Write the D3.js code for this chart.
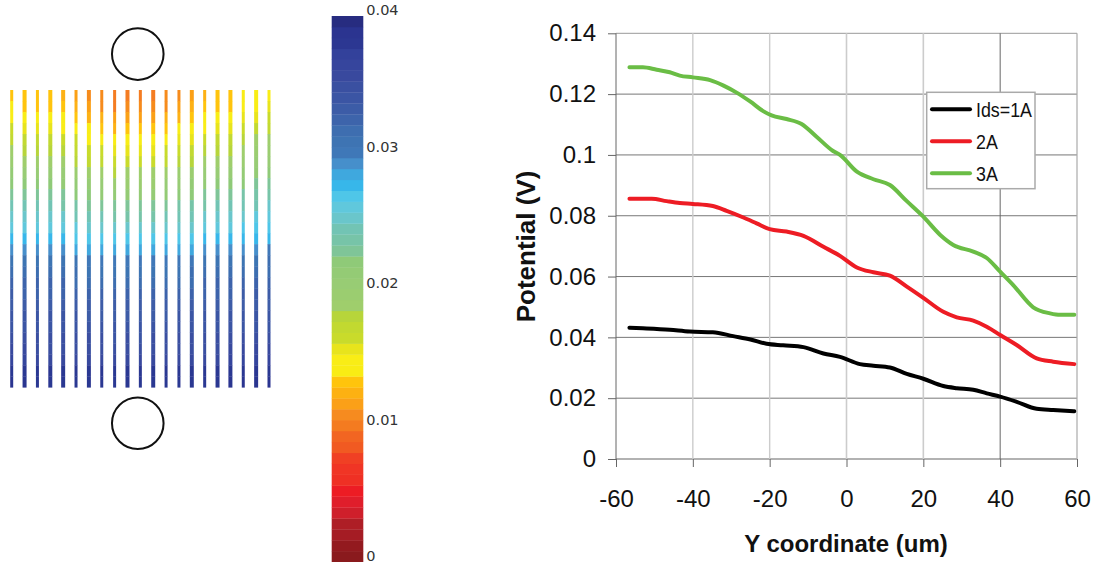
<!DOCTYPE html>
<html>
<head>
<meta charset="utf-8">
<script src="https://cdn.jsdelivr.net/npm/d3@7"></script>
<style>
  html, body { margin: 0; padding: 0; background: #fff; }
  svg { display: block; }
  text { font-family: "Liberation Sans", Arial, sans-serif; fill: #111; }
</style>
</head>
<body>
<div id="chart"></div>
<script>
// line chart data
const seriesNames = ["Ids=1A", "2A", "3A"];
const seriesColors = ["#000000", "#ed1c24", "#6abd45"];
const xTicks = [-60, -40, -20, 0, 20, 40, 60];
const yTicks = [0, 0.02, 0.04, 0.06, 0.08, 0.1, 0.12, 0.14];

const blackX = [-56.5, -53, -46, -40.8, -34.8, -29.5, -25, -20.8, -16.5, -11.2, -6, -1.7, 3.5, 7, 11.3, 15.7, 20, 25.2, 28.7, 33, 36.5, 40, 44.3, 49.5, 53.8, 59.3];
const blackY = [0.0432, 0.043, 0.0425, 0.0419, 0.0417, 0.0404, 0.0393, 0.0379, 0.0374, 0.0368, 0.0347, 0.0336, 0.0312, 0.0307, 0.0301, 0.028, 0.0264, 0.024, 0.0233, 0.0228, 0.0216, 0.0205, 0.0188, 0.0165, 0.0161, 0.0157];

const redX = [-56.5, -50.7, -46.8, -43.4, -40, -34.8, -31.2, -27, -23.4, -20, -15.6, -11.2, -6, -1.7, 2.7, 7, 11.3, 15.7, 20, 25.2, 28.7, 33, 36.5, 40, 44.3, 49.5, 53.8, 59.3];
const redY = [0.0856, 0.0856, 0.0848, 0.0842, 0.0839, 0.0832, 0.0816, 0.0795, 0.0775, 0.0756, 0.0748, 0.0734, 0.0698, 0.0668, 0.063, 0.0614, 0.0603, 0.0567, 0.053, 0.0484, 0.0466, 0.0455, 0.0435, 0.0408, 0.0375, 0.0331, 0.032, 0.0312];

const greenX = [-56.5, -53, -49.4, -46, -43.4, -40, -35.5, -32, -28.6, -25, -21.7, -19.5, -15.6, -11.7, -7.8, -3.5, -1.7, 2.7, 7, 11.3, 15.7, 20, 24.4, 27.8, 33, 36.5, 40, 43.4, 48.6, 53, 55.6, 59.3];
const greenY = [0.1288, 0.1288, 0.128, 0.1272, 0.1261, 0.1255, 0.1246, 0.1228, 0.1205, 0.1175, 0.1144, 0.113, 0.1118, 0.1102, 0.106, 0.1013, 0.1, 0.0945, 0.092, 0.0901, 0.0848, 0.0797, 0.0737, 0.0704, 0.0682, 0.0661, 0.0616, 0.0572, 0.0499, 0.0479, 0.0474, 0.0474];

// colour bar, 50 bands from 0 up to 0.04
const bandColors = [
  "#8a1a1d", "#931a1f", "#a51c24", "#ae1e26", "#cf1f2b", "#e01e2b", "#ed1c24", "#ef3024", "#f03525", "#f04024",
  "#f15a22", "#f26522", "#f47b20", "#f68b1f", "#fba018", "#fdb112", "#ffc40c", "#f9ec14", "#f9ed16", "#e8e41c",
  "#c9db2b", "#c2d930", "#b7d53a", "#9fce6c", "#9bcd70", "#98cc74", "#94cb75", "#8fca78", "#7fc598", "#77c4a8",
  "#72c4b4", "#6ac6cb", "#60c8dc", "#4fc6e8", "#37b7ea", "#3fa8de", "#468fcb", "#3f78b8", "#3e74b3", "#3e6eb0",
  "#3d64ab", "#3c5ca7", "#3b55a4", "#3a50a1", "#39499e", "#36459d", "#33419b", "#2c3792", "#2b3490", "#272c80"
];
const colorTicks = [0, 0.01, 0.02, 0.03, 0.04];

// finger map: potential in units of 1e-4 V, one row per step down the fingers, one column per finger
const fingerPos = [-50, -45, -40, -35, -30, -25, -20, -15, -10, -5, 0, 5, 10, 15, 20, 25, 30, 35, 40, 45, 50];
const fingerRows = [
  [135,130,130,130,125,118,108,105,98,100,100,100,105,112,115,125,130,130,140,145,150],
  [140,135,135,135,130,123,113,110,103,105,105,105,110,117,120,130,135,135,145,150,155],
  [148,144,144,144,139,133,124,121,115,117,117,117,121,127,130,139,144,144,152,157,161],
  [160,156,156,156,151,145,136,133,127,129,129,129,133,139,142,151,156,156,164,169,173],
  [175,171,171,171,166,160,151,148,142,144,144,144,148,154,157,166,171,171,179,184,188],
  [186,182,182,182,178,172,163,160,155,156,156,156,160,166,169,178,182,182,190,194,199],
  [195,191,191,191,187,181,173,171,165,167,167,167,171,177,179,187,191,191,199,203,207],
  [208,205,205,205,201,196,189,187,182,184,184,184,187,192,194,201,205,205,212,215,219],
  [220,217,217,217,214,210,204,202,198,199,199,199,202,206,208,214,217,217,223,226,229],
  [230,228,228,228,225,222,217,215,212,213,213,213,215,219,220,225,228,228,232,235,237],
  [242,240,240,240,238,234,230,228,225,226,226,226,228,232,233,238,240,240,244,246,249],
  [252,250,250,250,248,245,241,240,237,238,238,238,240,243,244,248,250,250,254,256,258],
  [262,260,260,260,259,256,253,252,249,250,250,250,252,254,255,259,260,260,264,265,267],
  [276,274,274,274,273,271,268,267,265,266,266,266,267,269,270,273,274,274,277,279,280],
  [292,290,290,290,289,287,284,283,281,282,282,282,283,285,286,289,290,290,293,295,296],
  [308,307,307,307,305,304,301,300,299,299,299,299,300,302,303,305,307,307,309,310,312],
  [316,315,315,315,314,313,311,310,309,309,309,309,310,311,312,314,315,315,317,318,319],
  [322,321,321,321,320,319,317,316,315,315,315,315,316,317,318,320,321,321,323,324,325],
  [328,327,327,327,326,325,324,323,322,323,323,323,323,325,325,326,327,327,329,329,330],
  [334,333,333,333,332,332,330,330,329,329,329,329,330,331,331,332,333,333,334,335,335],
  [338,337,337,337,337,336,335,335,334,334,334,334,335,336,336,337,337,337,338,339,339],
  [342,342,341,341,341,340,339,339,338,339,338,339,339,340,340,341,341,342,342,343,343],
  [347,346,346,346,346,345,344,344,343,344,343,344,344,345,345,346,346,346,347,348,348],
  [352,352,351,351,351,351,350,350,349,350,349,350,350,350,351,351,351,352,352,353,353],
  [360,360,359,359,359,359,358,358,358,358,358,358,358,359,359,359,359,360,360,360,361],
  [378,378,377,377,377,377,376,376,376,376,376,376,376,377,377,377,377,378,378,378,379],
  [384,384,383,383,383,383,382,382,382,382,382,382,382,383,383,383,383,384,384,384,385]
];
const padX = [-1, -1];
const padY = [74.5, -74.5];

const width = 1095;
const height = 562;

const svg = d3.select("#chart").append("svg")
  .attr("width", width)
  .attr("height", height);

// the source picture is a soft scan, the finger map needs a little of that
svg.append("defs").append("filter")
  .attr("id", "soft")
  .append("feGaussianBlur")
  .attr("stdDeviation", 0.5);

// ---- finger map ----
const colorOf = d3.scaleQuantize().domain([0, 0.04]).range(bandColors);

const fx = d3.scaleLinear().domain([-50, 50]).range([11.7, 269]);
const fy = d3.scaleLinear().domain([60, -60]).range([90, 387.3]);
const rowBand = d3.scaleBand().domain(d3.range(fingerRows.length)).range([90, 387.3]);
// fingers alternate between two drawn widths because of the resampling
const wideFingers = new Set([1, 3, 4, 6, 9, 11, 14, 16, 17, 19]);

const cells = [];
fingerRows.forEach((row, r) => row.forEach((v, i) => cells.push({r, i, v: v * 1e-4})));

svg.append("g")
  .attr("filter", "url(#soft)")
  .selectAll("rect")
  .data(cells)
  .join("rect")
  .attr("x", d => fx(fingerPos[d.i]) - (wideFingers.has(d.i) ? 2 : 1.5))
  .attr("y", d => rowBand(d.r))
  .attr("width", d => wideFingers.has(d.i) ? 4 : 3)
  .attr("height", rowBand.bandwidth() + 0.3)
  .attr("fill", d => colorOf(d.v));

svg.append("g").selectAll("circle")
  .data(padX)
  .join("circle")
  .attr("cx", d => fx(d))
  .attr("cy", (d, i) => fy(padY[i]))
  .attr("r", 25.8)
  .attr("fill", "none")
  .attr("stroke", "#111")
  .attr("stroke-width", 2);

// ---- colour bar ----
const cb = d3.scaleLinear().domain([0, 0.04]).range([562, 16]);
const bandStep = 0.04 / bandColors.length;

svg.append("g").selectAll("rect")
  .data(bandColors)
  .join("rect")
  .attr("x", 331.7)
  .attr("width", 31.6)
  .attr("y", (d, i) => cb((i + 1) * bandStep))
  .attr("height", cb(0) - cb(bandStep) + 0.3)
  .attr("fill", d => d);

const cbAxis = svg.append("g")
  .attr("transform", "translate(363.3,0)")
  .call(d3.axisRight(cb).tickValues(colorTicks).tickSize(0).tickPadding(3).tickFormat(d => String(d)));
cbAxis.select(".domain").remove();
cbAxis.selectAll("text")
  .attr("dy", "-0.09em")
  .style("font-family", "'DejaVu Sans'")
  .style("font-size", "14.5px")
  .style("fill", "#333");

// ---- line chart ----
const x = d3.scaleLinear().domain([-60, 60]).range([616, 1077]);
const y = d3.scaleLinear().domain([0, 0.14]).range([459, 33.3]);

// vertical grid lines differ in weight in the picture
const vGridColor = {"-60": "#666", "-40": "#ccc", "-20": "#ccc", "0": "#ccc", "20": "#ccc", "40": "#666", "60": "#aaa"};
const vGridWidth = {"-60": 1, "-40": 1.4, "-20": 1.4, "0": 1.6, "20": 1.6, "40": 1, "60": 1.2};

svg.append("g").selectAll("line")
  .data(yTicks)
  .join("line")
  .attr("x1", x(-60))
  .attr("x2", x(60))
  .attr("y1", d => y(d))
  .attr("y2", d => y(d))
  .attr("stroke", d => d === 0 ? "#999" : d === 0.14 ? "#999" : "#777")
  .attr("stroke-width", d => d === 0 ? 1.6 : 1);

svg.append("g").selectAll("line")
  .data(xTicks)
  .join("line")
  .attr("x1", d => x(d))
  .attr("x2", d => x(d))
  .attr("y1", y(0.14))
  .attr("y2", y(0))
  .attr("stroke", d => vGridColor[d])
  .attr("stroke-width", d => vGridWidth[d]);

const xAxis = svg.append("g")
  .attr("transform", `translate(0,${y(0)})`)
  .call(d3.axisBottom(x).tickValues(xTicks).tickSize(8).tickPadding(23).tickFormat(d => String(d)));
const yAxis = svg.append("g")
  .attr("transform", `translate(${x(-60)},0)`)
  .call(d3.axisLeft(y).tickValues(yTicks).tickSize(8).tickPadding(12).tickFormat(d => String(d)));

xAxis.select(".domain").remove();
yAxis.select(".domain").remove();
xAxis.selectAll("line").attr("stroke", "#666");
yAxis.selectAll("line").attr("stroke", "#666");
svg.selectAll("g text").filter(function() { return !this.style.fontFamily; })
  .style("font-family", "'Liberation Sans'")
  .style("font-size", "24px")
  .style("fill", "#111");

const line = d3.line().x(d => x(d[0])).y(d => y(d[1])).curve(d3.curveMonotoneX);
const seriesPoints = [d3.zip(blackX, blackY), d3.zip(redX, redY), d3.zip(greenX, greenY)];

svg.append("g").selectAll("path")
  .data(seriesPoints)
  .join("path")
  .attr("d", line)
  .attr("fill", "none")
  .attr("stroke", (d, i) => seriesColors[i])
  .attr("stroke-width", 4)
  .attr("stroke-linejoin", "round")
  .attr("stroke-linecap", "round");

// titles
svg.append("text")
  .attr("x", 846)
  .attr("y", 552)
  .attr("text-anchor", "middle")
  .style("font-size", "24px")
  .style("font-weight", "bold")
  .text("Y coordinate (um)");

svg.append("text")
  .attr("transform", "translate(535,246.5) rotate(-90)")
  .attr("text-anchor", "middle")
  .style("font-size", "26px")
  .style("font-weight", "bold")
  .text("Potential (V)");

// legend
const legend = svg.append("g");
legend.append("rect")
  .attr("x", 926.7)
  .attr("y", 92.3)
  .attr("width", 108.3)
  .attr("height", 96.4)
  .attr("fill", "#fff")
  .attr("stroke", "#aaa")
  .attr("stroke-width", 1.5);

const legendRow = d3.scalePoint().domain(seriesNames).range([109.3, 173.3]);

legend.selectAll("line")
  .data(seriesNames)
  .join("line")
  .attr("x1", 932)
  .attr("x2", 970)
  .attr("y1", d => legendRow(d))
  .attr("y2", d => legendRow(d))
  .attr("stroke", (d, i) => seriesColors[i])
  .attr("stroke-width", 4)
  .attr("stroke-linecap", "round");

legend.selectAll("text")
  .data(seriesNames)
  .join("text")
  .attr("transform", d => `translate(976,${legendRow(d) + 7.5}) scale(0.85,1)`)
  .style("font-size", "21px")
  .text(d => d);
</script>
</body>
</html>
